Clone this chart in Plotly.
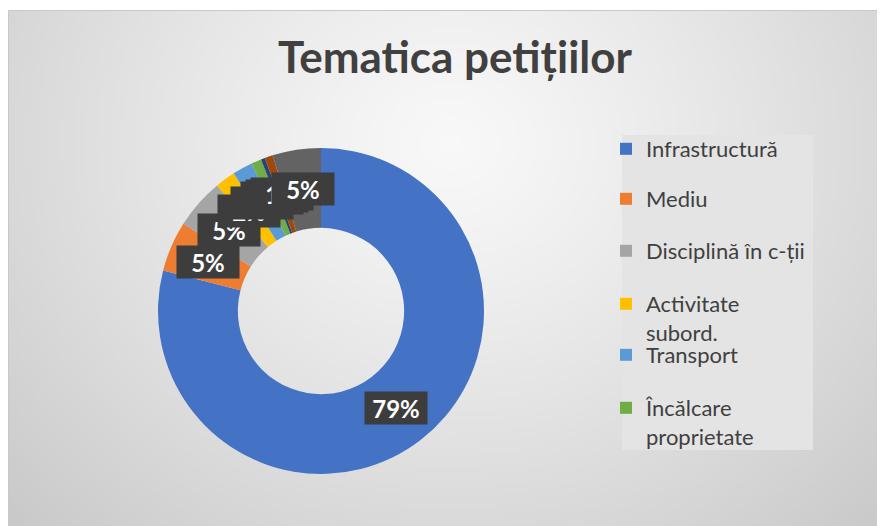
import base64, struct, zlib, math
import plotly.graph_objects as go

# ---------------- data ----------------
categories = ["Infrastructură", "Mediu", "Disciplină în c-ții", "Activitate subord.",
              "Transport", "Încălcare proprietate", "Social", "Ordine publică", "Altele"]
shares = [79, 5, 5, 2, 2, 1, 0.4, 0.8, 4.8]
legend_shown = 6  # Excel legend shows only the first six entries
legend_labels = ["Infrastructură", "Mediu", "Disciplină în c-ții", "Activitate<br>subord.",
                 "Transport", "Încălcare<br>proprietate"]
colors = ["#4472C4", "#ED7D31", "#A5A5A5", "#FFC000", "#5B9BD5", "#70AD47",
          "#264478", "#9E480E", "#636363"]
title_text = "Tematica petițiilor"

W, H = 885, 526
OFF = 8          # page body margin: screen = figure + 8
FONT = "Lato"

def px_x(sx):    # screen x -> paper x
    return (sx - OFF) / W

def px_y(sy):    # screen y -> paper y
    return 1 - (sy - OFF) / H

# ---------------- background gradient image ----------------
def gradient_png(w, h):
    rows = []
    cx, cy = 0.5, 0.25
    for j in range(h):
        row = bytearray([0])
        for i in range(w):
            dx = abs(i / (w - 1) - cx) / 0.5
            dy = abs(j / (h - 1) - cy) / 0.75
            d = min(1.0, math.sqrt(dx * dx + dy * dy) / math.sqrt(2))
            c = int(round(248 - 48 * d ** 1.2))
            row += bytes([c, c, c])
        rows.append(bytes(row))
    raw = b"".join(rows)
    def chunk(t, data):
        return struct.pack(">I", len(data)) + t + data + struct.pack(">I", zlib.crc32(t + data) & 0xffffffff)
    png = b"\x89PNG\r\n\x1a\n"
    png += chunk(b"IHDR", struct.pack(">IIBBBBB", w, h, 8, 2, 0, 0, 0))
    png += chunk(b"IDAT", zlib.compress(raw, 9))
    png += chunk(b"IEND", b"")
    return "data:image/png;base64," + base64.b64encode(png).decode()

bg_src = gradient_png(177, 103)

# ---------------- geometry ----------------
R_px = 163
CX, CY = 321, 311          # donut centre on screen
dom_x = [px_x(CX - R_px), px_x(CX + R_px)]
dom_y = [px_y(CY + R_px), px_y(CY - R_px)]
hole = 0.51

fig = go.Figure()
fig.add_trace(go.Pie(
    labels=categories, values=shares, sort=False, direction="clockwise", rotation=0,
    hole=hole, marker=dict(colors=colors, line=dict(width=0)),
    textinfo="none", showlegend=False, domain=dict(x=dom_x, y=dom_y),
    hovertemplate="%{label}: %{percent}<extra></extra>",
))

# legend entries (only those Excel displays), each in its own legend box
legend_centres = [148, 198, 250, 303, 354, 407]   # screen y of first text line
legend_layout = {}
for i in range(legend_shown):
    key = "legend" if i == 0 else f"legend{i + 1}"
    fig.add_trace(go.Scatter(
        x=[None], y=[None], mode="markers", name=legend_labels[i], legend=key,
        marker=dict(symbol="square", size=12, color=colors[i]), hoverinfo="skip",
    ))
    legend_layout[key] = dict(
        x=px_x(646 - 40), xanchor="left", y=px_y(legend_centres[i] - 20), yanchor="top",
        font=dict(family=FONT, size=22, color="#404040"), valign="top",
        bgcolor="rgba(0,0,0,0)", itemsizing="trace",
    )

# data labels placed at each slice's mid-angle, middle of the ring
cx = (dom_x[0] + dom_x[1]) / 2 * W
cy = (dom_y[0] + dom_y[1]) / 2 * H
R = min((dom_x[1] - dom_x[0]) * W, (dom_y[1] - dom_y[0]) * H) / 2
r_lab = R * (1 + hole) / 2
total = sum(shares)
cum = 0.0
annotations = []
for v in shares:
    mid = (cum + v / 2) / total
    cum += v
    th = 2 * math.pi * mid
    px = cx + r_lab * math.sin(th)
    py = cy + r_lab * math.cos(th)
    annotations.append(dict(
        x=px / W, y=py / H, xref="paper", yref="paper", showarrow=False,
        text=f"<b>{round(v / total * 100)}%</b>", font=dict(family=FONT, size=24, color="white"),
        bgcolor="#3d3d3d", borderpad=2, width=58, height=28,
        xanchor="center", yanchor="middle",
    ))

fig.update_layout(
    width=W, height=H, margin=dict(l=0, r=0, t=0, b=0),
    paper_bgcolor="white", plot_bgcolor="rgba(0,0,0,0)",
    xaxis=dict(visible=False), yaxis=dict(visible=False),
    images=[dict(source=bg_src, xref="paper", yref="paper", x=px_x(8), y=px_y(10),
                 sizex=1.0, sizey=1.0, xanchor="left", yanchor="top",
                 sizing="stretch", layer="below")],
    shapes=[
        dict(type="rect", xref="paper", yref="paper", x0=px_x(8.5), x1=1.01, y0=-0.01,
             y1=px_y(10.5), line=dict(color="#c8c8c8", width=1), layer="below"),
        dict(type="rect", xref="paper", yref="paper", x0=px_x(622), x1=px_x(813),
             y0=px_y(450), y1=px_y(135), line=dict(width=0), fillcolor="#e4e4e4",
             layer="below"),
    ],
    title=dict(text=f"<b>{title_text}</b>", x=px_x(455), xanchor="center", y=px_y(58),
               yanchor="middle", font=dict(family=FONT, size=44, color="#404040")),
    annotations=annotations,
    **legend_layout,
)

fig.write_html("out.html")
